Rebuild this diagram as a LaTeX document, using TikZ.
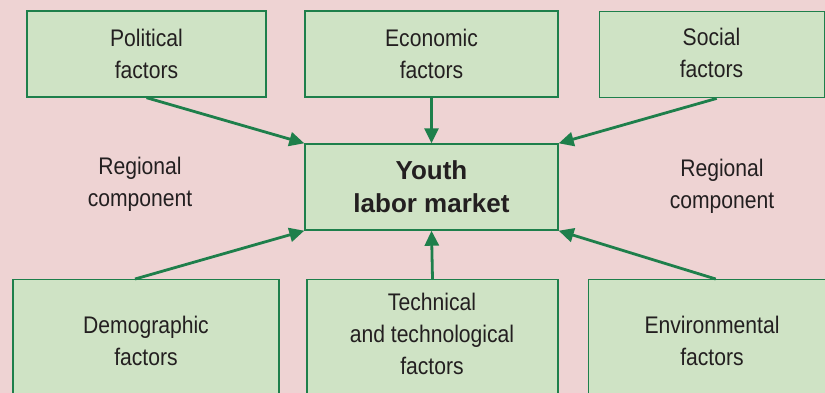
\documentclass[tikz,border=0pt]{standalone}
\usepackage{fontspec}
\setmainfont{Liberation Sans}[FakeStretch=0.88]
\newfontfamily\boldsans{Liberation Sans}
\usetikzlibrary{arrows.meta}
\definecolor{bgpink}{HTML}{EED3D3}
\definecolor{boxfill}{HTML}{CFE3C5}
\definecolor{darkgreen}{HTML}{1E7F4B}
\definecolor{txtgray}{HTML}{231F20}
\begin{document}
\begin{tikzpicture}[x=1pt,y=-1pt,
  box/.style={draw=darkgreen, line width=1.4pt, fill=boxfill, inner sep=0pt,
    text=txtgray, align=center, font=\fontsize{24}{32}\selectfont},
  txt/.style={text=txtgray, align=center, inner sep=0pt, font=\fontsize{24}{32}\selectfont},
  arr/.style={draw=darkgreen, line width=2.8pt, -{Triangle[length=15pt,width=14pt]}}]
\useasboundingbox (0,0) rectangle (825,392);
\clip (0,0) rectangle (825,392);
\fill[bgpink] (-10,-10) rectangle (835,402);
% top boxes
\node[box, minimum width=239pt, minimum height=86pt] (pol) at (146.5,54) {Political\\factors};
\node[box, minimum width=253pt, minimum height=86pt] (eco) at (431.5,54) {Economic\\factors};
\node[box, minimum width=225pt, minimum height=86pt, anchor=north west] (soc) at (599,11) {};
\node[txt] (soctext) at (711.5,53) {Social\\factors};
% centre
\node[box, minimum width=253pt, minimum height=86pt, font=\boldsans\bfseries\fontsize{26}{33}\selectfont] (ylm) at (431.5,187) {Youth\\labor market};
% bottom boxes
\node[box, minimum width=266pt, minimum height=140pt, anchor=north] (demo) at (146,279) {};
\node[txt] (demotext) at (146,341) {Demographic\\factors};
\node[box, minimum width=251pt, minimum height=140pt, anchor=north] (tech) at (432.5,279) {};
\node[txt] (techtext) at (432,334) {Technical\\and technological\\factors};
\node[box, minimum width=254pt, minimum height=140pt, anchor=north west] (env) at (588,279) {};
\node[txt] (envtext) at (712,341) {Environmental\\factors};
% regional components
\node[txt] (regl) at (140,184) {Regional\\component};
\node[txt] (regr) at (722,186) {Regional\\component};
% arrows
\draw[arr] (pol.south) -- (ylm.north west);
\draw[arr] (eco.south) -- (ylm.north);
\draw[arr] ([xshift=4.5pt]soc.south) -- (ylm.north east);
\draw[arr] ([xshift=-11pt]demo.north) -- (ylm.south west);
\draw[arr] (tech.north) -- (ylm.south);
\draw[arr] (env.north) -- (ylm.south east);
\end{tikzpicture}
\end{document}
